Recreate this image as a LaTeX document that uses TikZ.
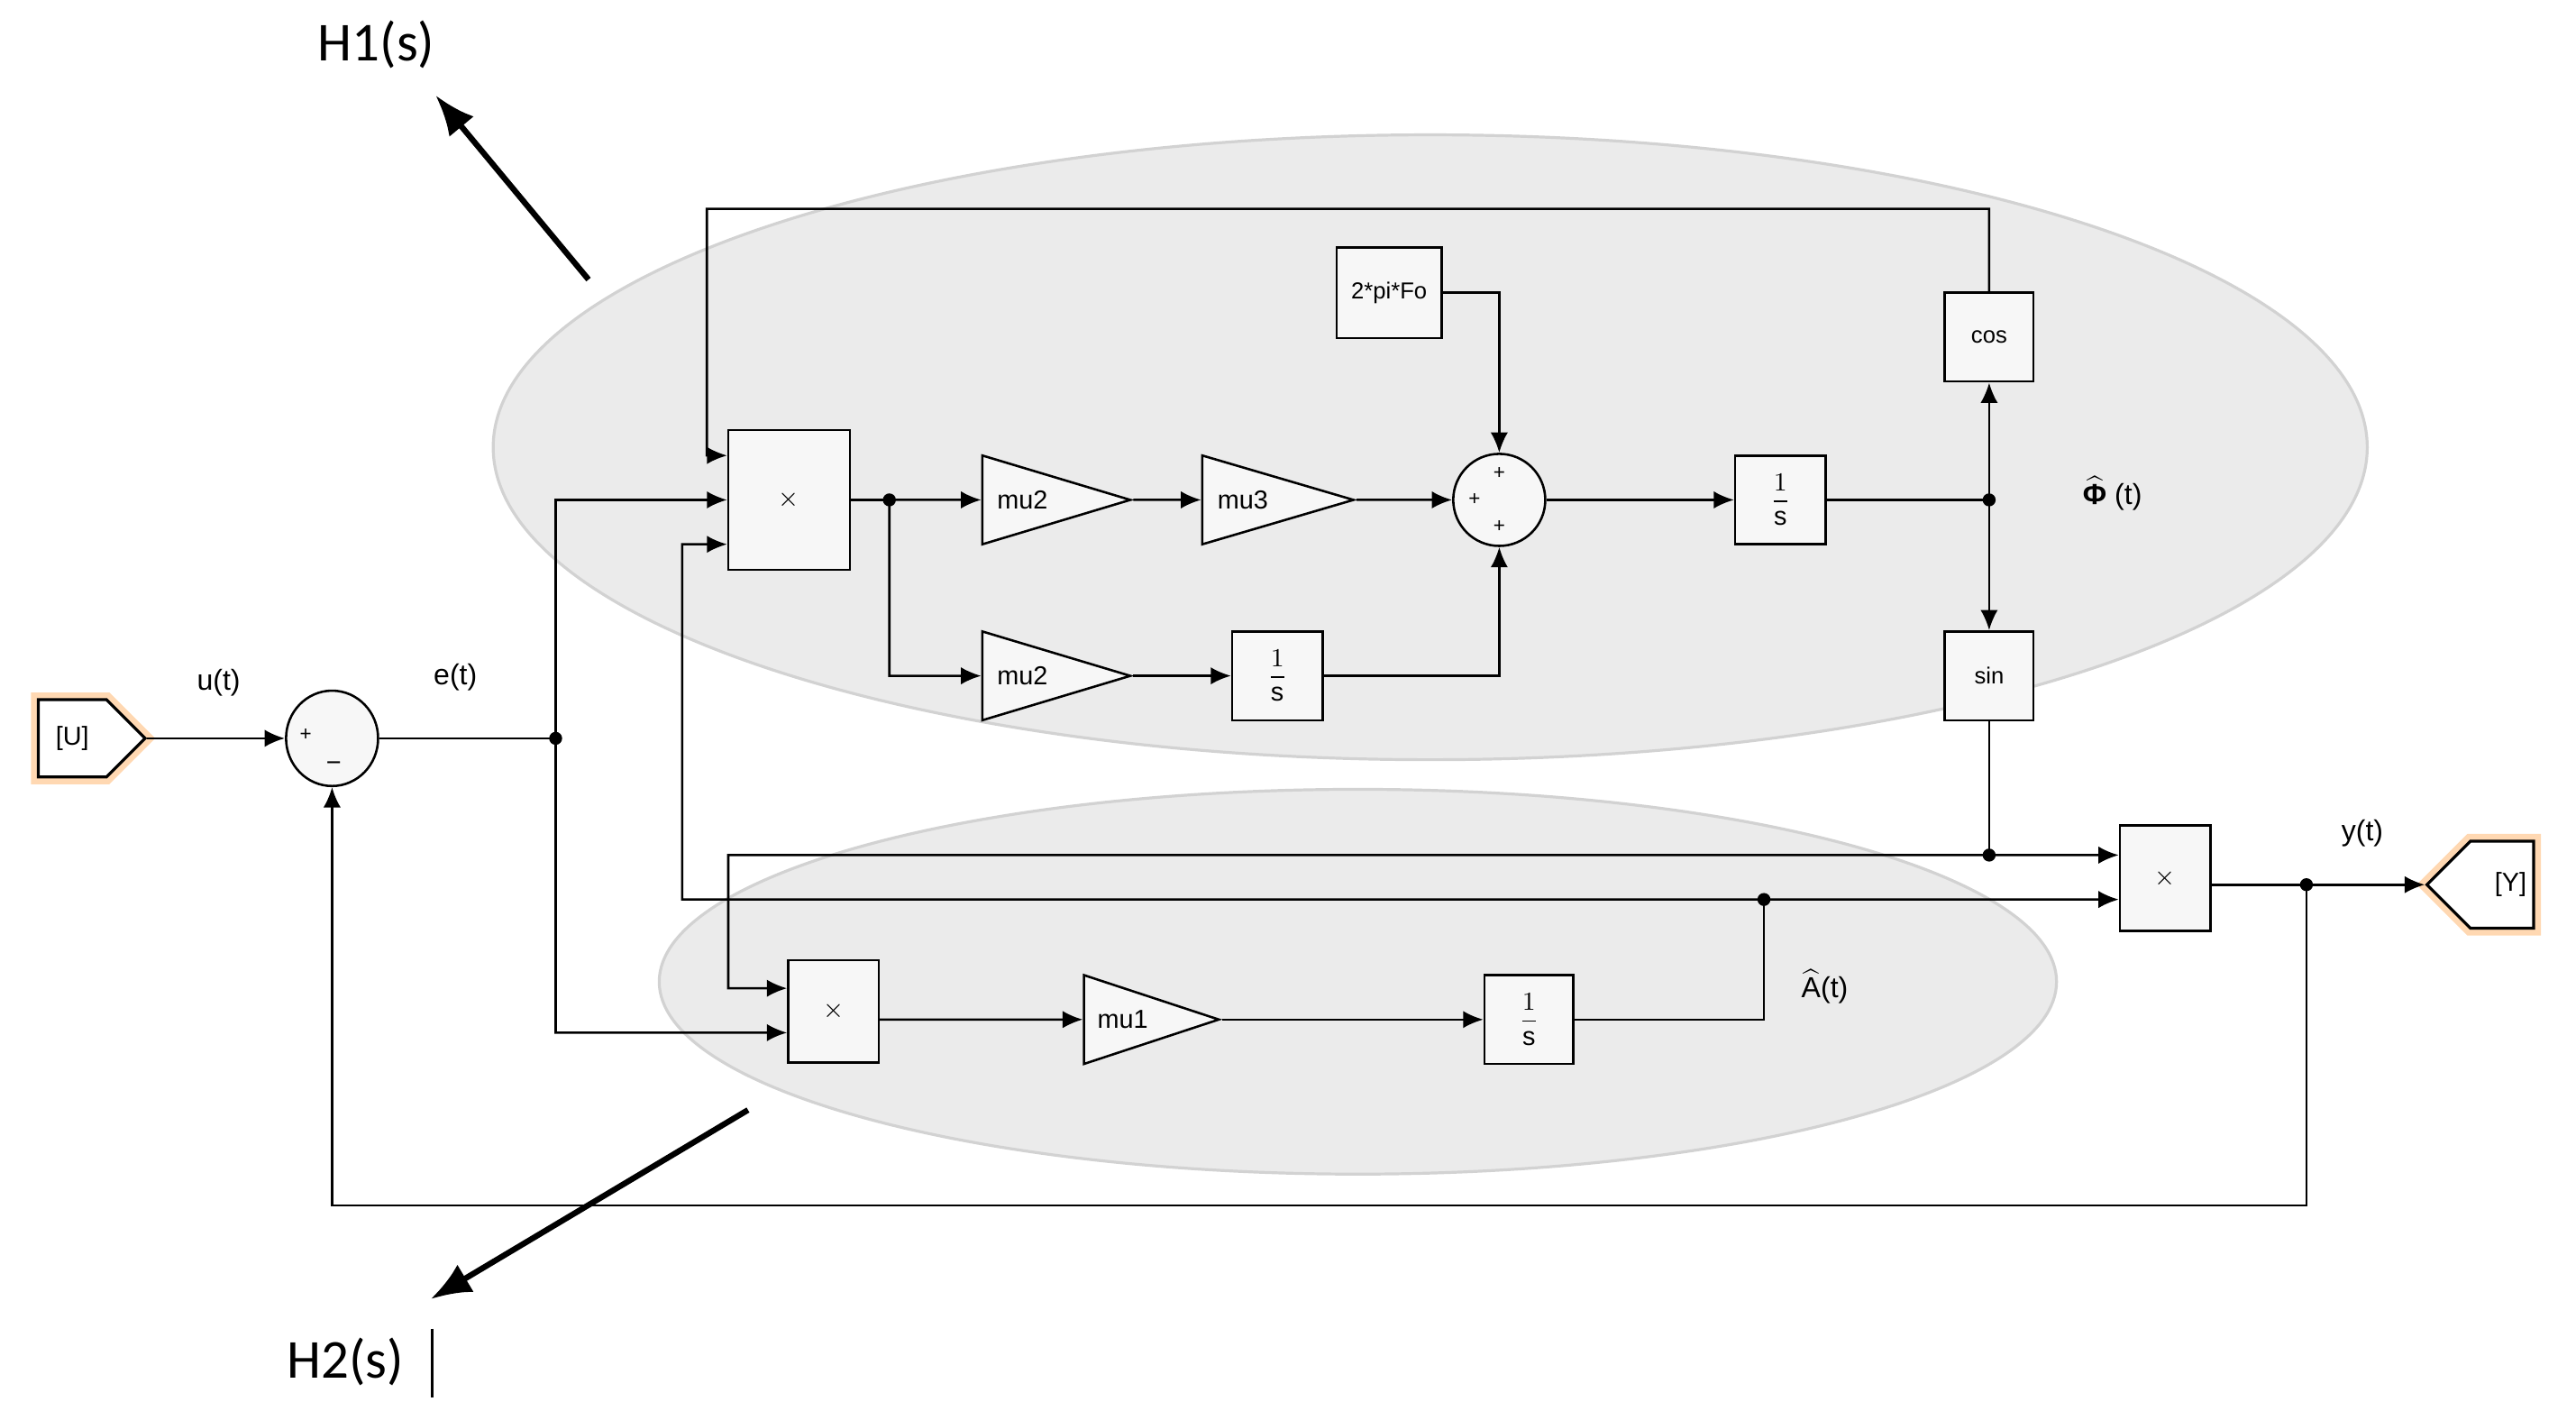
\documentclass[tikz,border=0pt]{standalone}
\usepackage{fontspec}
\setmainfont{Liberation Sans}
\newfontfamily\hfont{Carlito}
\usetikzlibrary{shapes.geometric,shapes.symbols,arrows.meta}
\newcommand{\onesfrac}{$\displaystyle\frac{1}{\mathrm{s}}$}
\begin{document}
\begin{tikzpicture}[x=0.02cm,y=-0.02cm,
  blk/.style={draw,line width=0.8pt,fill=gray!6,inner sep=0pt,font=\small},
  gain/.style={draw,line width=0.8pt,fill=gray!6,isosceles triangle,isosceles triangle stretches,shape border rotate=0,inner sep=0pt,font=\small},
  sumb/.style={draw,line width=0.8pt,fill=gray!6,ellipse,inner sep=0pt},
  tag/.style={draw,line width=1pt,fill=white,signal,inner sep=0pt,font=\small,
     preaction={draw=orange!60,line width=5pt,opacity=0.5}},
  w/.style={line width=0.8pt},
  a/.style={line width=0.8pt,-{Latex[length=7pt,width=6pt]}},
  dot/.style={circle,fill,inner sep=0pt,minimum size=4.5pt},
  lab/.style={font=\normalsize},
  big/.style={line width=2pt,-{Latex[length=14pt,width=11pt]}}]
\useasboundingbox (0,0) rectangle (1567,858);
% ellipses
\fill[gray!16] (870,272) ellipse [x radius=570,y radius=190];
\draw[gray!35,line width=1pt] (870,272) ellipse [x radius=570,y radius=190];
\fill[gray!16] (826,597) ellipse [x radius=425,y radius=117];
\draw[gray!35,line width=1pt] (826,597) ellipse [x radius=425,y radius=117];
% nodes
\node[tag,signal to=east,minimum width=1.3cm,minimum height=0.94cm] (U) at (44,449) {[U]\hspace{6pt}};
\node[sumb,minimum width=1.12cm,minimum height=1.16cm] (s1) at (202,449) {};
\node[font=\scriptsize] at (186,447) {+};
\node[font=\small] at (203,466) {\textminus};
\node[blk,minimum width=1.48cm,minimum height=1.7cm] (p1) at (480,304) {$\times$};
\node[gain,minimum height=1.8cm,minimum width=1.08cm] (g1) at (622,304) {mu2\hspace{10pt}};
\node[gain,minimum height=1.84cm,minimum width=1.08cm] (g2) at (756,304) {mu3\hspace{10pt}};
\node[gain,minimum height=1.8cm,minimum width=1.08cm] (g3) at (622,411) {mu2\hspace{10pt}};
\node[blk,minimum width=1.1cm,minimum height=1.08cm] (i1) at (777,411) {\onesfrac};
\node[sumb,minimum width=1.12cm,minimum height=1.12cm] (s2) at (912,304) {};
\node[font=\scriptsize] at (912,288) {+};
\node[font=\scriptsize] at (897,304) {+};
\node[font=\scriptsize] at (912,320) {+};
\node[blk,minimum width=1.28cm,minimum height=1.1cm,font=\footnotesize] (k) at (845,178) {2*pi*Fo};
\node[blk,minimum width=1.1cm,minimum height=1.08cm] (i2) at (1083,304) {\onesfrac};
\node[blk,minimum width=1.08cm,minimum height=1.08cm,font=\footnotesize] (cos) at (1210,205) {cos};
\node[blk,minimum width=1.08cm,minimum height=1.08cm,font=\footnotesize] (sin) at (1210,411) {sin};
\node[blk,minimum width=1.1cm,minimum height=1.24cm] (p2) at (507,615) {$\times$};
\node[gain,minimum height=1.64cm,minimum width=1.08cm] (g4) at (683,620) {mu1\hspace{10pt}};
\node[blk,minimum width=1.08cm,minimum height=1.08cm] (i3) at (930,620) {\onesfrac};
\node[blk,minimum width=1.1cm,minimum height=1.28cm] (p3) at (1317,534) {$\times$};
\node[tag,signal to=west,minimum width=1.3cm,minimum height=1.06cm] (Y) at (1522,538) {\hspace{6pt}[Y]};
% junction coords
\coordinate (je) at (338,449);
\coordinate (j1) at (541,304);
\coordinate (jp) at (1210,304);
\coordinate (js) at (1210,520);
\coordinate (ja) at (1073,547);
\coordinate (jy) at (1403,538);
% wires
\draw[a] (U.east) -- (s1.west);
\draw[w] (s1.east) -- (je);
\draw[a] (je) -- (338,304) -- (p1.west);
\draw[a] (je) -- (338,628) -- ([yshift=-0.26cm]p2.west);
\draw[a] (cos.north) -- (1210,127) -- (430,127) -- (430,277) -- ([yshift=0.54cm]p1.west);
\draw[a] (ja) -- (415,547) -- (415,331) -- ([yshift=-0.54cm]p1.west);
\draw[a] (ja) -- ([yshift=-0.26cm]p3.west);
\draw[w] (p1.east) -- (j1);
\draw[a] (j1) -- (g1.west);
\draw[a] (g1.east) -- (g2.west);
\draw[a] (g2.east) -- (s2.west);
\draw[a] (j1) -- (541,411) -- (g3.west);
\draw[a] (g3.east) -- (i1.west);
\draw[a] (i1.east) -- (912,411) -- (s2.south);
\draw[a] (k.east) -- (912,178) -- (s2.north);
\draw[a] (s2.east) -- (i2.west);
\draw[w] (i2.east) -- (jp);
\draw[a] (jp) -- (cos.south);
\draw[a] (jp) -- (sin.north);
\draw[w] (sin.south) -- (js);
\draw[a] (js) -- ([yshift=0.28cm]p3.west);
\draw[a] (js) -- (443,520) -- (443,601) -- ([yshift=0.28cm]p2.west);
\draw[a] (p2.east |- 0,620) -- (g4.west);
\draw[a] (g4.east) -- (i3.west);
\draw[w] (i3.east) -- (1073,620) -- (ja);
\draw[w] (p3.east |- 0,538) -- (jy);
\draw[a] (jy) -- (Y.west);
\draw[a] (jy) -- (1403,733) -- (202,733) -- (s1.south);
\foreach \p in {je,j1,jp,js,ja,jy} \node[dot] at (\p) {};
% labels
\node[lab] at (133,415) {u(t)};
\node[lab] at (277,412) {e(t)};
\node[lab] at (1437,507) {y(t)};
\node[lab] at (1285,300) {$\widehat{\hbox{\textbf{Φ}}}$ (t)};
\node[lab] at (1110,600) {$\widehat{\hbox{A}}$(t)};
% H arrows
\coordinate (h1a) at (358,170); \coordinate (h1b) at (265,58);
\draw[big] (h1a) -- (h1b);
\node[font=\hfont\fontsize{19}{22}\selectfont] (H1) at (229,27) {H1(s)};
\coordinate (h2a) at (455,675); \coordinate (h2b) at (262,790);
\draw[big] (h2a) -- (h2b);
\node[font=\hfont\fontsize{19}{22}\selectfont] (H2) at (210,828) {H2(s)};
\draw[line width=1pt] (263,808) -- (263,850);
\end{tikzpicture}
\end{document}
